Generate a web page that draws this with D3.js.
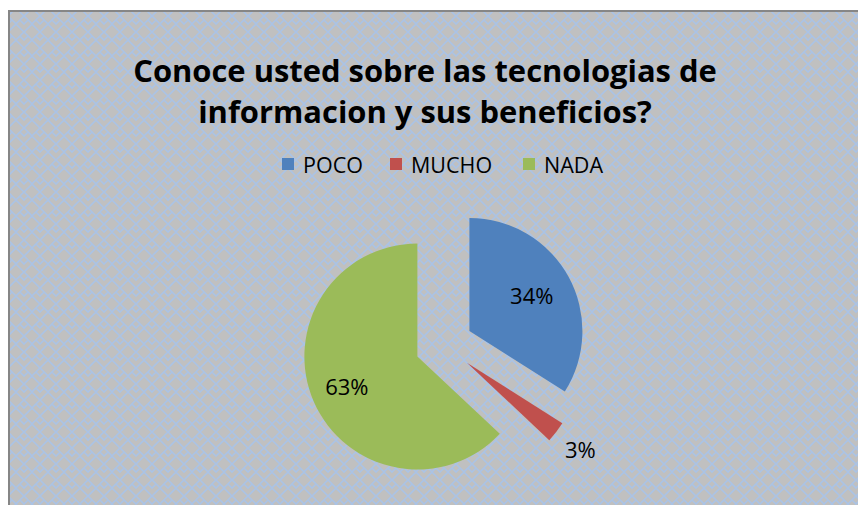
<!DOCTYPE html>
<html lang="es">
<head>
<meta charset="UTF-8">
<title>Conoce usted sobre las tecnologias</title>
<style>
  body { margin: 0; background: #fff; }
  svg text { font-family: "Open Sans", "Liberation Sans", sans-serif; }
</style>
</head>
<body>
<script src="https://d3js.org/d3.v7.min.js"></script>
<div id="chart"></div>
<script>
// data
var categories = ["POCO", "MUCHO", "NADA"];
var values = [34, 3, 63];
var colors = ["#4f81bd", "#c0504d", "#9bbb59"];
var titleLines = ["Conoce usted sobre las tecnologias de", "informacion y sus beneficios?"];

var W = 858, H = 505;

var svg = d3.select("#chart").append("svg")
    .attr("width", W)
    .attr("height", H);

// weave-like background pattern
var defs = svg.append("defs");
var pat = defs.append("pattern")
    .attr("id", "weave")
    .attr("patternUnits", "userSpaceOnUse")
    .attr("width", 16)
    .attr("height", 16);
pat.append("rect").attr("width", 16).attr("height", 16).attr("fill", "#c0c0c0");
pat.append("path")
    .attr("d", "M0,8 L8,0 M8,16 L16,8 M0,8 L8,16 M8,0 L16,8 M4,4 L8,8 L12,4")
    .attr("stroke", "#aac3e6")
    .attr("stroke-width", 1.6)
    .attr("fill", "none");

// chart area with border
svg.append("rect")
    .attr("x", 9).attr("y", 11)
    .attr("width", W).attr("height", H)
    .attr("fill", "url(#weave)")
    .attr("stroke", "#868686")
    .attr("stroke-width", 2);

// title
var title = svg.append("g");
title.selectAll("text")
    .data(titleLines)
    .enter().append("text")
    .attr("x", 425)
    .attr("y", function(d, i) { return 82 + i * 41; })
    .attr("text-anchor", "middle")
    .attr("font-weight", "bold")
    .attr("font-size", 32)
    .attr("fill", "#000")
    .text(function(d) { return d; });
// fit first line to the reference width
var t0 = title.select("text").node();
var fs = 32 * 584 / t0.getComputedTextLength();
title.selectAll("text").attr("font-size", fs);

// legend
var legendX = [282, 390, 523];
var legend = svg.append("g");
var items = legend.selectAll("g")
    .data(categories)
    .enter().append("g")
    .attr("transform", function(d, i) { return "translate(" + legendX[i] + ",158)"; });
items.append("rect")
    .attr("width", 12).attr("height", 12)
    .attr("fill", function(d, i) { return colors[i]; });
items.append("text")
    .attr("x", 21).attr("y", 15)
    .attr("font-size", 21.5)
    .attr("fill", "#000")
    .text(function(d) { return d; });

// pie
var cx = 444, cy = 345, r = 113, explode = 29;
var pie = d3.pie().sort(null).value(function(d) { return d; });
var arcs = pie(values);
var arc = d3.arc().innerRadius(0).outerRadius(r);

var g = svg.append("g").attr("transform", "translate(" + cx + "," + cy + ")");
var slices = g.selectAll("g.slice")
    .data(arcs)
    .enter().append("g")
    .attr("class", "slice")
    .attr("transform", function(d) {
        var a = (d.startAngle + d.endAngle) / 2;
        return "translate(" + (Math.sin(a) * explode) + "," + (-Math.cos(a) * explode) + ")";
    });

slices.append("path")
    .attr("d", arc)
    .attr("fill", function(d, i) { return colors[i]; });

// labels: inside for big slices, outside for the small one
var labelR = [0.63, 1.27, 0.68];
slices.append("text")
    .attr("x", function(d, i) { var a = (d.startAngle + d.endAngle) / 2; return Math.sin(a) * r * labelR[i]; })
    .attr("y", function(d, i) { var a = (d.startAngle + d.endAngle) / 2; return -Math.cos(a) * r * labelR[i]; })
    .attr("dy", "0.35em")
    .attr("text-anchor", "middle")
    .attr("font-size", 22)
    .attr("fill", "#000")
    .text(function(d) { return d.data + "%"; });
</script>
</body>
</html>
